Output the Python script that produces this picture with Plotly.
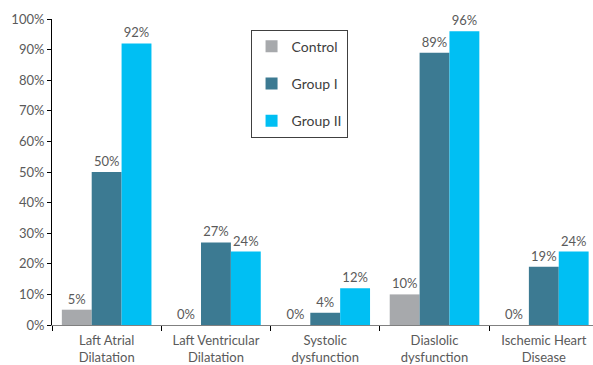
import plotly.graph_objects as go

categories = ["Laft Atrial<br>Dilatation", "Laft Ventricular<br>Dilatation", "Systolic<br>dysfunction",
              "Diaslolic<br>dysfunction", "Ischemic Heart<br>Disease"]
control = [5, 0, 0, 10, 0]
group1 = [50, 27, 4, 89, 19]
group2 = [92, 24, 12, 96, 24]
y_ticks = [0, 10, 20, 30, 40, 50, 60, 70, 80, 90, 100]

series = [("Control", control, "#A7A9AC"), ("Group I", group1, "#3C7A92"), ("Group II", group2, "#00BFF3")]

FONT = "Lato"

fig = go.Figure()
for name, vals, col in series:
    fig.add_trace(go.Bar(
        x=categories, y=vals, name=name, marker=dict(color=col, line=dict(width=0)),
        text=[f"{v}%" for v in vals], textposition="outside", cliponaxis=False,
        textfont=dict(color="#5a5a5a", size=13, family=FONT), legendgroup=name,
    ))

fig.update_layout(
    width=593, height=365, margin=dict(l=52, r=0, t=19, b=40),
    paper_bgcolor="white", plot_bgcolor="white",
    font=dict(family=FONT, size=13, color="#5a5a5a"),
    barmode="group", bargap=0.18, bargroupgap=0,
    showlegend=True,
    legend=dict(x=0.367, y=0.965, xanchor="left", yanchor="top", bordercolor="#404040", borderwidth=1,
                bgcolor="white", traceorder="grouped", tracegroupgap=16,
                font=dict(size=14, color="#404040", family=FONT), itemwidth=30),
    uniformtext=dict(minsize=8),
)
fig.update_yaxes(range=[0, 100], tickvals=y_ticks, ticktext=[f"{v}%" for v in y_ticks],
                 showgrid=False, zeroline=False, showline=True, linecolor="#000000", linewidth=1,
                 ticks="outside", ticklen=4, tickcolor="#000000", tickfont=dict(size=13, color="#5a5a5a"))
fig.update_xaxes(range=[-0.5, 4.45], showgrid=False, showline=True, linecolor="#808080", linewidth=1,
                 ticks="outside", tickson="boundaries", ticklen=5, tickcolor="#000000",
                 ticklabelstandoff=3,
                 tickfont=dict(size=13, color="#5a5a5a"))
fig.write_html("out.html")
